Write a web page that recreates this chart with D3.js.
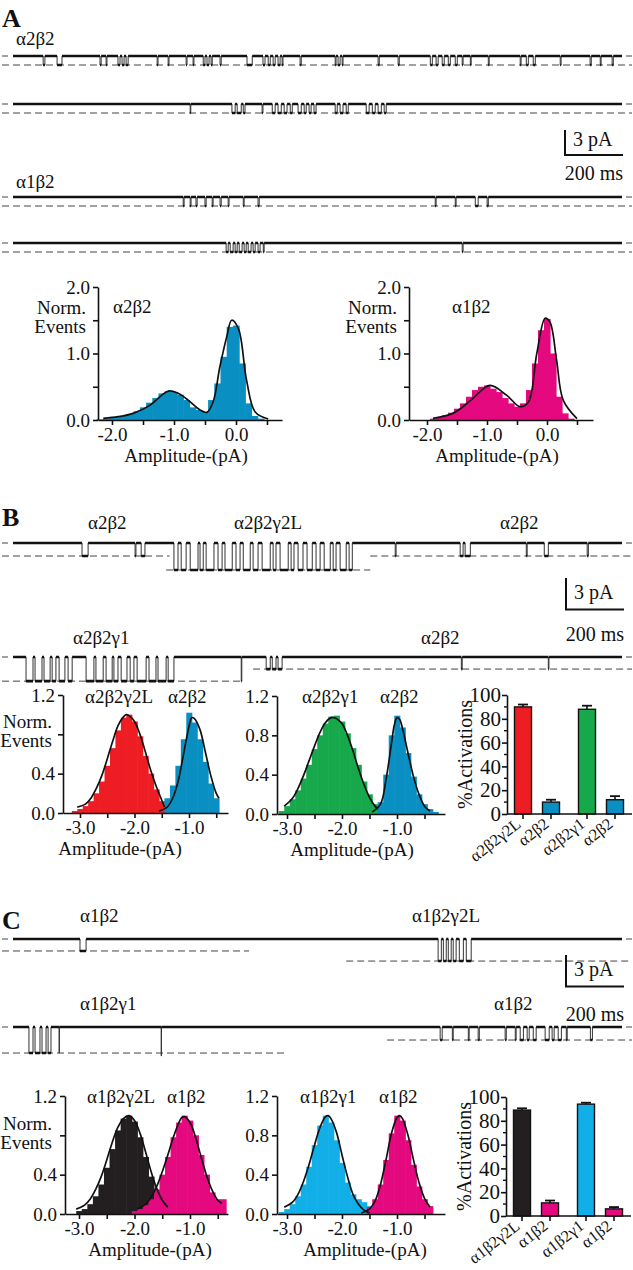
<!DOCTYPE html>
<html><head><meta charset="utf-8">
<script src="https://cdn.jsdelivr.net/npm/d3@7"></script>
<style>body{margin:0;background:#fff}svg{display:block}</style>
</head><body><svg id="fig" width="633" height="1270"></svg>
<script>
// ================= DATA =================
const traceDomainMs = [0, 2100];
const scaleBarPA = 3, scaleBarMs = 200;

// Panel A traces: openings [start ms, end ms]
const evA1 = [[104,110],[152,169],[300,304],[321,324],[362,369],[376,383],[390,397],[497,500],[535,538],[597,600],[621,624],[656,662],[669,676],[683,687],[714,718],[807,825],[862,869],[880,887],[897,904],[914,921],[928,931],[990,994],[1111,1114],[1121,1128],[1135,1138],[1259,1263],[1328,1332],[1439,1446],[1459,1466],[1480,1487],[1501,1508],[1525,1532],[1549,1552],[1577,1580],[1639,1642],[1749,1752],[1770,1777],[1794,1801],[1887,1890],[1990,1994],[2025,2028],[2066,2070]];
const evA2 = [[611,613],[755,766],[773,787],[794,800],[859,862],[894,904],[914,925],[935,945],[956,963],[983,994],[1004,1011],[1021,1028],[1038,1045],[1111,1118],[1128,1138],[1149,1156],[1218,1228],[1239,1249],[1259,1270],[1280,1287]];
const evA3 = [[587,590],[611,614],[631,635],[662,666],[687,690],[714,718],[742,745],[794,797],[845,849],[1456,1459],[1525,1528],[1594,1604],[1635,1639]];
const evA4 = [[735,742],[749,759],[766,773],[780,790],[797,804],[811,821],[828,835],[845,852],[863,866],[1549,1552]];
const levelA = -1.08; // pA
const dashA = [[-38, 2140, -1.08]];

// Panel B traces
const evB1_a2b2 = [[238,259],[421,424],[442,455],[1318,1321],[1542,1552],[1559,1577],[1770,1773],[1832,1846],[1980,1984]];
const evB1_g2L = [[555,569],[580,597],[611,638],[645,656],[666,693],[707,721],[731,756],[769,783],[794,818],[828,845],[859,887],[897,907],[921,949],[959,969],[983,1000],[1014,1032],[1045,1059],[1073,1094],[1104,1114],[1128,1149],[1159,1170]];
const levelsB1 = [-1.24, -2.57];
const dashB1 = [[-38, 540, -1.24], [528, 1232, -2.57], [1232, 2140, -1.24]];
const evB2_g1 = [[45,69],[76,100],[107,128],[135,148],[159,179],[190,204],[252,279],[286,311],[321,342],[348,362],[373,393],[404,417],[428,459],[469,493],[500,528],[535,555],[787,789]];
const evB2_a2b2 = [[873,887],[894,907],[914,928],[1546,1549],[1846,1848]];
const levelsB2 = [-2.3, -1.15];
const dashB2 = [[-38, 793, -2.3], [828, 2140, -1.15]];

// Panel C traces
const evC1_a1b2 = [[231,252]];
const evC1_g2L = [[1466,1477],[1484,1494],[1501,1511],[1518,1528],[1539,1553],[1563,1580]];
const levelsC1 = [-1.14, -2.1];
const dashC1 = [[-38, 814, -1.14], [1149, 2140, -2.1]];
const evC2_g1 = [[55,69],[76,93],[100,114],[121,131],[159,160]];
const evC2_spike = [[511,512]];
const evC2_a1b2 = [[1473,1480],[1515,1518],[1570,1573],[1604,1608],[1697,1701],[1732,1735],[1749,1760],[1773,1780],[1794,1804],[1835,1849],[1859,1866],[1880,1891],[1908,1911],[1991,1998]];
const levelsC2 = [-2.48, -2.75, -1.24];
const dashC2 = [[-38, 945, -2.48], [1290, 2140, -1.24]];

// Histograms: [bin centre (pA), normalized events], bin width 0.1 pA
const binWidth = 0.1;
const binsA_a2b2 = [[-2.2,0.01],[-2.1,0.02],[-2.0,0.03],[-1.9,0.05],[-1.8,0.06],[-1.7,0.09],[-1.6,0.13],[-1.5,0.19],[-1.4,0.26],[-1.3,0.33],[-1.2,0.4],[-1.1,0.43],[-1.0,0.42],[-0.9,0.38],[-0.8,0.3],[-0.7,0.19],[-0.6,0.15],[-0.5,0.12],[-0.4,0.3],[-0.3,0.55],[-0.2,0.95],[-0.1,1.4],[0.0,1.42],[0.1,0.85],[0.2,0.25],[0.3,0.06],[0.4,0.02]];
const fitA_a2b2 = [[-2.14,0.025],[-1.9,0.05],[-1.66,0.1],[-1.39,0.22],[-1.2,0.37],[-1.09,0.435],[-0.95,0.41],[-0.8,0.32],[-0.58,0.15],[-0.47,0.115],[-0.37,0.27],[-0.26,0.8],[-0.15,1.25],[-0.07,1.5],[0.04,1.37],[0.17,0.6],[0.31,0.12],[0.52,0.015]];
const binsA_a1b2 = [[-1.9,0.02],[-1.8,0.04],[-1.7,0.07],[-1.6,0.11],[-1.5,0.17],[-1.4,0.25],[-1.3,0.35],[-1.2,0.45],[-1.1,0.5],[-1.0,0.52],[-0.9,0.47],[-0.8,0.42],[-0.7,0.33],[-0.6,0.25],[-0.5,0.2],[-0.4,0.25],[-0.3,0.45],[-0.2,0.85],[-0.1,1.35],[0.0,1.52],[0.1,1.0],[0.2,0.35],[0.3,0.1],[0.4,0.02]];
const fitA_a1b2 = [[-1.9,0.025],[-1.57,0.1],[-1.4,0.2],[-1.23,0.33],[-0.95,0.52],[-0.67,0.37],[-0.45,0.2],[-0.31,0.27],[-0.17,1.0],[-0.03,1.53],[0.05,1.47],[0.16,0.9],[0.27,0.3],[0.5,0.02]];

const binsB_g2L = [[-3.1,0.02],[-3.0,0.04],[-2.9,0.07],[-2.8,0.12],[-2.7,0.2],[-2.6,0.32],[-2.5,0.48],[-2.4,0.66],[-2.3,0.84],[-2.2,0.97],[-2.1,1.0],[-2.0,0.93],[-1.9,0.78],[-1.8,0.58],[-1.7,0.4],[-1.6,0.24],[-1.5,0.12]];
const binsB_a2b2_1 = [[-1.4,0.15],[-1.3,0.28],[-1.2,0.48],[-1.1,0.75],[-1.0,1.02],[-0.9,0.92],[-0.8,0.75],[-0.7,0.52],[-0.6,0.3],[-0.5,0.15]];
const fitB_g2L = [[-3.05,0.06],[-2.9,0.09],[-2.8,0.15],[-2.7,0.25],[-2.6,0.38],[-2.5,0.55],[-2.4,0.73],[-2.3,0.89],[-2.2,0.98],[-2.15,1.0],[-2.1,0.99],[-2.0,0.93],[-1.9,0.8],[-1.8,0.62],[-1.7,0.43],[-1.6,0.27],[-1.5,0.13],[-1.45,0.06]];
const fitB_a2b2_1 = [[-1.55,0.02],[-1.4,0.06],[-1.3,0.15],[-1.2,0.32],[-1.1,0.6],[-1.0,0.88],[-0.95,0.97],[-0.9,0.96],[-0.8,0.85],[-0.7,0.62],[-0.6,0.38],[-0.5,0.2],[-0.45,0.15]];
const binsB_g1 = [[-3.1,0.03],[-3.0,0.08],[-2.9,0.15],[-2.8,0.24],[-2.7,0.36],[-2.6,0.5],[-2.5,0.66],[-2.4,0.8],[-2.3,0.92],[-2.2,0.99],[-2.1,1.0],[-2.0,0.94],[-1.9,0.82],[-1.8,0.67],[-1.7,0.5],[-1.6,0.33],[-1.5,0.2],[-1.4,0.1]];
const binsB_a2b2_2 = [[-1.3,0.12],[-1.2,0.4],[-1.1,0.8],[-1.0,1.0],[-0.9,0.88],[-0.8,0.62],[-0.7,0.38],[-0.6,0.2],[-0.5,0.1],[-0.4,0.05],[-0.3,0.02]];
const fitB_g1 = [[-3.05,0.08],[-2.9,0.16],[-2.8,0.26],[-2.7,0.39],[-2.6,0.54],[-2.5,0.69],[-2.4,0.83],[-2.3,0.93],[-2.2,0.98],[-2.15,0.98],[-2.1,0.97],[-2.0,0.92],[-1.9,0.8],[-1.8,0.64],[-1.7,0.46],[-1.6,0.3],[-1.5,0.17],[-1.4,0.08],[-1.35,0.05]];
const fitB_a2b2_2 = [[-1.45,0.02],[-1.3,0.1],[-1.2,0.35],[-1.1,0.72],[-1.05,0.9],[-1.0,0.98],[-0.95,0.96],[-0.9,0.87],[-0.8,0.62],[-0.7,0.38],[-0.6,0.2],[-0.5,0.08],[-0.4,0.03]];

const binsC_g2L = [[-3.0,0.03],[-2.9,0.05],[-2.8,0.1],[-2.7,0.18],[-2.6,0.3],[-2.5,0.47],[-2.4,0.66],[-2.3,0.85],[-2.2,0.97],[-2.1,1.0],[-2.0,0.94],[-1.9,0.78],[-1.8,0.58],[-1.7,0.38],[-1.6,0.22],[-1.5,0.1]];
const binsC_a1b2_1 = [[-2.0,0.03],[-1.9,0.05],[-1.8,0.09],[-1.7,0.15],[-1.6,0.25],[-1.5,0.4],[-1.4,0.58],[-1.3,0.78],[-1.2,0.93],[-1.1,1.0],[-1.0,0.95],[-0.9,0.8],[-0.8,0.6],[-0.7,0.4],[-0.6,0.22],[-0.5,0.15],[-0.4,0.15]];
const fitC_g2L = [[-3.05,0.05],[-2.9,0.09],[-2.8,0.15],[-2.7,0.25],[-2.6,0.38],[-2.5,0.55],[-2.4,0.73],[-2.3,0.88],[-2.2,0.97],[-2.1,1.0],[-2.0,0.95],[-1.9,0.82],[-1.8,0.63],[-1.7,0.43],[-1.6,0.26],[-1.5,0.14],[-1.4,0.07]];
const fitC_a1b2_1 = [[-1.95,0.05],[-1.8,0.1],[-1.7,0.17],[-1.6,0.28],[-1.5,0.43],[-1.4,0.6],[-1.3,0.78],[-1.2,0.93],[-1.15,0.98],[-1.1,0.99],[-1.0,0.93],[-0.9,0.78],[-0.8,0.58],[-0.7,0.39],[-0.6,0.24],[-0.5,0.14],[-0.43,0.11]];
const binsC_g1 = [[-3.1,0.02],[-3.0,0.05],[-2.9,0.1],[-2.8,0.18],[-2.7,0.3],[-2.6,0.48],[-2.5,0.7],[-2.4,0.9],[-2.3,1.0],[-2.2,0.93],[-2.1,0.75],[-2.0,0.52],[-1.9,0.32],[-1.8,0.2],[-1.7,0.15],[-1.6,0.12],[-1.5,0.08]];
const binsC_a1b2_2 = [[-1.5,0.07],[-1.4,0.15],[-1.3,0.3],[-1.2,0.55],[-1.1,0.82],[-1.0,1.0],[-0.9,0.95],[-0.8,0.75],[-0.7,0.5],[-0.6,0.28],[-0.5,0.15],[-0.4,0.08]];
const fitC_g1 = [[-3.05,0.07],[-2.9,0.12],[-2.8,0.2],[-2.7,0.33],[-2.6,0.5],[-2.5,0.7],[-2.4,0.88],[-2.3,0.99],[-2.25,1.0],[-2.2,0.97],[-2.1,0.83],[-2.0,0.6],[-1.9,0.38],[-1.8,0.2],[-1.7,0.1],[-1.6,0.04],[-1.5,0.01]];
const fitC_a1b2_2 = [[-1.65,0.01],[-1.5,0.05],[-1.4,0.13],[-1.3,0.3],[-1.2,0.55],[-1.1,0.82],[-1.0,0.98],[-0.95,1.0],[-0.9,0.97],[-0.8,0.8],[-0.7,0.55],[-0.6,0.32],[-0.5,0.16],[-0.4,0.07]];

// Bar charts (% activations)
const barCatsB = ["α2β2γ2L","α2β2","α2β2γ1","α2β2"];
const barValsB = [90, 10, 88, 12];
const barErrB = [2, 2, 3, 3];
const barCatsC = ["α1β2γ2L","α1β2","α1β2γ1","α1β2"];
const barValsC = [89, 11, 94, 6];
const barErrC = [1.5, 2, 1.2, 1.5];

// Tick values
const ticksA_y = [0, 0.5, 1.0, 1.5, 2.0], labelsA_y = [0, 1.0, 2.0];
const ticksA_x = [-2.0, -1.5, -1.0, -0.5, 0.0, 0.5], labelsA_x = [-2.0, -1.0, 0.0];
const ticksBC_y = [0, 0.4, 0.8, 1.2];
const ticksBC_x = [-3.0, -2.5, -2.0, -1.5, -1.0, -0.5], labelsBC_x = [-3.0, -2.0, -1.0];
const ticksBar_major = [0, 20, 40, 60, 80, 100];
const ticksBar_minor = [10, 30, 50, 70, 90];

// ================= DRAWING =================
const FONT = '"Liberation Serif","Times New Roman",Times,serif';
const COL = {blue:"#0a8fc2", pink:"#e4097f", red:"#ee1d24", green:"#17a84b", black:"#231f20", lblue:"#12aee8"};
const svg = d3.select('#fig');
const tx = d3.scaleLinear().domain(traceDomainMs).range([13, 622]);

function text(str, x, y, opts = {}) {
  const t = svg.append('text').attr('x', x).attr('y', y).text(str)
    .attr('font-family', FONT).attr('font-size', opts.size || 19).attr('fill', '#111');
  if (opts.anchor) t.attr('text-anchor', opts.anchor);
  if (opts.bold) t.attr('font-weight', 'bold');
  if (opts.transform) t.attr('transform', opts.transform);
  return t;
}

function drawTrace(y0, ppa, groups, dashes) {
  const ty = d3.scaleLinear().domain([0, -1]).range([y0, y0 + ppa]);
  dashes.forEach(([t0, t1, l]) => {
    svg.append('line').attr('x1', Math.max(2, tx(t0))).attr('x2', Math.min(632, tx(t1)))
      .attr('y1', ty(l)).attr('y2', ty(l)).attr('stroke', '#444').attr('stroke-width', 1)
      .attr('stroke-dasharray', '7,4');
  });
  [[2, 8], [626, 632]].forEach(([a, b]) => svg.append('line').attr('x1', a).attr('x2', b)
    .attr('y1', y0).attr('y2', y0).attr('stroke', '#444').attr('stroke-width', 1));
  const ev = [];
  groups.forEach(([list, level]) => list.forEach(([s, e]) => ev.push([s, e, level])));
  ev.sort((a, b) => a[0] - b[0]);
  const pts = [[traceDomainMs[0], 0]];
  ev.forEach(([s, e, l]) => { pts.push([s, l]); pts.push([e, 0]); });
  pts.push([traceDomainMs[1], 0]);
  svg.append('path').datum(pts)
    .attr('d', d3.line().x(d => tx(d[0])).y(d => ty(d[1])).curve(d3.curveStepAfter))
    .attr('fill', 'none').attr('stroke', '#333').attr('stroke-width', 1);
  let dd = '';
  for (let i = 0; i < pts.length - 1; i++) {
    const xa = tx(pts[i][0]), xb = tx(pts[i + 1][0]);
    if (xb - xa > 0.3) dd += `M${xa},${ty(pts[i][1])}H${xb}`;
  }
  svg.append('path').attr('d', dd).attr('fill', 'none').attr('stroke', '#111').attr('stroke-width', 2.6);
}

function scaleBar(x, yTop, ppa, lblY1, lblY2) {
  const h = scaleBarPA * ppa, w = tx(scaleBarMs) - tx(0);
  svg.append('path').attr('d', `M${x},${yTop}V${yTop + h}H${x + w}`)
    .attr('fill', 'none').attr('stroke', '#111').attr('stroke-width', 2);
  text('3 pA', x + 8, lblY1, {size: 20});
  text('200 ms', x + w, lblY2, {size: 20, anchor: 'end'});
}

const near = (arr, v) => arr.some(a => Math.abs(a - v) < 1e-6);

function styleAxis(g, size) {
  g.select('.domain').attr('stroke', '#111').attr('stroke-width', 1.6);
  g.selectAll('.tick line').attr('stroke', '#111').attr('stroke-width', 1.6);
  g.selectAll('.tick text').attr('font-family', FONT).attr('font-size', size || 19).attr('fill', '#111');
}

function drawHist(o) {
  const x = d3.scaleLinear().domain(o.xd).range(o.xr);
  const y = d3.scaleLinear().domain([0, 1.2]).range([o.y0, o.y1]);
  if (o.ymax) y.domain([0, o.ymax]);
  const g = svg.append('g');
  o.series.forEach(s => {
    g.append('g').selectAll('rect').data(s.bins).join('rect')
      .attr('x', d => x(d[0] - binWidth / 2)).attr('width', d => x(d[0] + binWidth / 2) - x(d[0] - binWidth / 2) + 0.6)
      .attr('y', d => y(d[1])).attr('height', d => y(0) - y(d[1])).attr('fill', s.color);
  });
  o.fits.forEach(f => g.append('path').datum(f)
    .attr('d', d3.line().x(d => x(d[0])).y(d => y(d[1])).curve(d3.curveCatmullRom.alpha(0.5)))
    .attr('fill', 'none').attr('stroke', '#111').attr('stroke-width', 1.7));
  const ay = g.append('g').attr('transform', `translate(${o.xr[0]},0)`)
    .call(d3.axisLeft(y).tickValues(o.yticks).tickSize(5).tickSizeOuter(0).tickPadding(3)
      .tickFormat(d => near(o.ylabels, d) ? d.toFixed(1) : ''));
  styleAxis(ay);
  const ax = g.append('g').attr('transform', `translate(0,${o.y0})`)
    .call(d3.axisBottom(x).tickValues(o.xticks).tickSize(5).tickSizeOuter(0).tickPadding(3)
      .tickFormat(d => near(o.xlabels, d) ? d.toFixed(1) : ''));
  styleAxis(ax);
  text('Amplitude-(pA)', o.ampX, o.y0 + 42, {anchor: 'middle'});
  if (o.norm) {
    text('Norm.', o.norm[0], o.norm[1], {anchor: 'end'});
    text('Events', o.norm[0], o.norm[1] + 19, {anchor: 'end'});
  }
  o.labels.forEach(([s, lx, ly]) => text(s, lx, ly));
}

function drawBars(o) {
  const y = d3.scaleLinear().domain([0, 100]).range([o.y0, o.y1]);
  const outer = d3.scaleBand().domain([0, 1]).range([o.x0 - 2, o.x0 + 126]);
  const inner = d3.scaleBand().domain([0, 1]).range([0, outer.bandwidth()]).paddingInner(0.393).paddingOuter(0.339);
  const bx = i => outer(Math.floor(i / 2)) + inner(i % 2);
  const bw = inner.bandwidth();
  const g = svg.append('g');
  o.vals.forEach((v, i) => {
    const cx = bx(i) + bw / 2;
    g.append('line').attr('x1', cx).attr('x2', cx).attr('y1', y(v)).attr('y2', y(v + o.err[i]))
      .attr('stroke', '#111').attr('stroke-width', 1.6);
    g.append('line').attr('x1', cx - 5).attr('x2', cx + 5).attr('y1', y(v + o.err[i])).attr('y2', y(v + o.err[i]))
      .attr('stroke', '#111').attr('stroke-width', 1.8);
    g.append('rect').attr('x', bx(i)).attr('width', bw).attr('y', y(v)).attr('height', y(0) - y(v))
      .attr('fill', o.colors[i]).attr('stroke', '#111').attr('stroke-width', 1.4);
    g.append('line').attr('x1', cx).attr('x2', cx).attr('y1', o.y0).attr('y2', o.y0 + 5)
      .attr('stroke', '#111').attr('stroke-width', 1.6);
    const ax = cx - 1, ay = o.y0 + 12;
    text(o.cats[i], ax, ay, {size: 16.5, anchor: 'end', transform: `rotate(-38,${ax},${ay})`});
  });
  const ay = g.append('g').attr('transform', `translate(${o.x0},0)`)
    .call(d3.axisLeft(y).tickValues(ticksBar_major).tickSize(5).tickSizeOuter(0).tickPadding(1).tickFormat(d3.format('d')));
  styleAxis(ay, 21);
  g.append('g').selectAll('line').data(ticksBar_minor).join('line')
    .attr('x1', o.x0 - 3).attr('x2', o.x0).attr('y1', d => y(d)).attr('y2', d => y(d))
    .attr('stroke', '#111').attr('stroke-width', 1.4);
  g.append('line').attr('x1', o.x0).attr('x2', o.x0 + 125).attr('y1', o.y0).attr('y2', o.y0)
    .attr('stroke', '#111').attr('stroke-width', 1.6);
  text('%Activations', o.x0 - 35, (o.y0 + o.y1) / 2, {size: 20, anchor: 'middle',
    transform: `rotate(-90,${o.x0 - 35},${(o.y0 + o.y1) / 2})`});
}

// ---------- Panel A ----------
text('A', 2, 27, {size: 26, bold: true});
text('α2β2', 16, 45);
const ppaA = 25 / 3;
drawTrace(56, ppaA, [[evA1, levelA]], dashA);
drawTrace(104, ppaA, [[evA2, levelA]], dashA);
scaleBar(565, 130, ppaA, 146, 180);
text('α1β2', 16, 188);
drawTrace(197, ppaA, [[evA3, levelA]], dashA);
drawTrace(243, ppaA, [[evA4, levelA]], dashA);

drawHist({xd: [(98 - 236) / 62, (282 - 236) / 62], xr: [98, 282], y0: 420, y1: 287, ymax: 2.0,
  yticks: ticksA_y, ylabels: labelsA_y, xticks: ticksA_x, xlabels: labelsA_x,
  series: [{bins: binsA_a2b2, color: COL.blue}], fits: [fitA_a2b2],
  ampX: 186, norm: [86, 314], labels: [['α2β2', 113, 313]]});
drawHist({xd: [(409 - 547) / 60, (593 - 547) / 60], xr: [409, 593], y0: 420, y1: 287, ymax: 2.0,
  yticks: ticksA_y, ylabels: labelsA_y, xticks: ticksA_x, xlabels: labelsA_x,
  series: [{bins: binsA_a1b2, color: COL.pink}], fits: [fitA_a1b2],
  ampX: 497, norm: [397, 314], labels: [['α1β2', 452, 313]]});

// ---------- Panel B ----------
const ppaBC = 10.5;
text('B', 2, 526, {size: 26, bold: true});
text('α2β2', 88, 529); text('α2β2γ2L', 234, 529); text('α2β2', 500, 529);
drawTrace(543, ppaBC, [[evB1_a2b2, levelsB1[0]], [evB1_g2L, levelsB1[1]]], dashB1);
scaleBar(566, 578, ppaBC, 599, 641);
text('α2β2γ1', 73, 644); text('α2β2', 421, 644);
drawTrace(657, ppaBC, [[evB2_g1, levelsB2[0]], [evB2_a2b2, levelsB2[1]]], dashB2);

drawHist({xd: [(63 - 80) / 54.5 - 3, (228 - 80) / 54.5 - 3], xr: [63, 228], y0: 813, y1: 695,
  yticks: ticksBC_y, ylabels: [0, 0.4, 1.2], xticks: ticksBC_x, xlabels: labelsBC_x,
  series: [{bins: binsB_g2L, color: COL.red}, {bins: binsB_a2b2_1, color: COL.blue}],
  fits: [fitB_g2L, fitB_a2b2_1], ampX: 120, norm: [52, 728],
  labels: [['α2β2γ2L', 85, 703], ['α2β2', 168, 703]]});
drawHist({xd: [(277 - 287) / 55 - 3, (445 - 287) / 55 - 3], xr: [277, 445], y0: 814, y1: 696,
  yticks: ticksBC_y, ylabels: [0, 0.4, 0.8, 1.2], xticks: ticksBC_x, xlabels: labelsBC_x,
  series: [{bins: binsB_g1, color: COL.green}, {bins: binsB_a2b2_2, color: COL.blue}],
  fits: [fitB_g1, fitB_a2b2_2], ampX: 352,
  labels: [['α2β2γ1', 302, 703], ['α2β2', 380, 703]]});
drawBars({x0: 507, y0: 814, y1: 695, vals: barValsB, err: barErrB, cats: barCatsB,
  colors: [COL.red, COL.blue, COL.green, COL.blue]});

// ---------- Panel C ----------
text('C', 2, 929, {size: 26, bold: true});
text('α1β2', 80, 922); text('α1β2γ2L', 412, 922);
drawTrace(939, ppaBC, [[evC1_a1b2, levelsC1[0]], [evC1_g2L, levelsC1[1]]], dashC1);
scaleBar(566, 955, ppaBC, 976, 1021);
text('α1β2γ1', 80, 1010); text('α1β2', 494, 1010);
drawTrace(1027, ppaBC, [[evC2_g1, levelsC2[0]], [evC2_spike, levelsC2[1]], [evC2_a1b2, levelsC2[2]]], dashC2);

drawHist({xd: [(65 - 79) / 55.5 - 3, (228 - 79) / 55.5 - 3], xr: [65, 228], y0: 1214, y1: 1096,
  yticks: ticksBC_y, ylabels: [0, 0.4, 1.2], xticks: ticksBC_x, xlabels: labelsBC_x,
  series: [{bins: binsC_g2L, color: COL.black}, {bins: binsC_a1b2_1, color: COL.pink}],
  fits: [fitC_g2L, fitC_a1b2_1], ampX: 150, norm: [52, 1130],
  labels: [['α1β2γ2L', 87, 1103], ['α1β2', 167, 1103]]});
drawHist({xd: [(277 - 287) / 55 - 3, (445 - 287) / 55 - 3], xr: [277, 445], y0: 1214, y1: 1096,
  yticks: ticksBC_y, ylabels: [0, 0.4, 0.8, 1.2], xticks: ticksBC_x, xlabels: labelsBC_x,
  series: [{bins: binsC_g1, color: COL.lblue}, {bins: binsC_a1b2_2, color: COL.pink}],
  fits: [fitC_g1, fitC_a1b2_2], ampX: 365,
  labels: [['α1β2γ1', 300, 1103], ['α1β2', 379, 1103]]});
drawBars({x0: 506, y0: 1216, y1: 1097, vals: barValsC, err: barErrC, cats: barCatsC,
  colors: [COL.black, COL.pink, COL.lblue, COL.pink]});
</script>
</body></html>
